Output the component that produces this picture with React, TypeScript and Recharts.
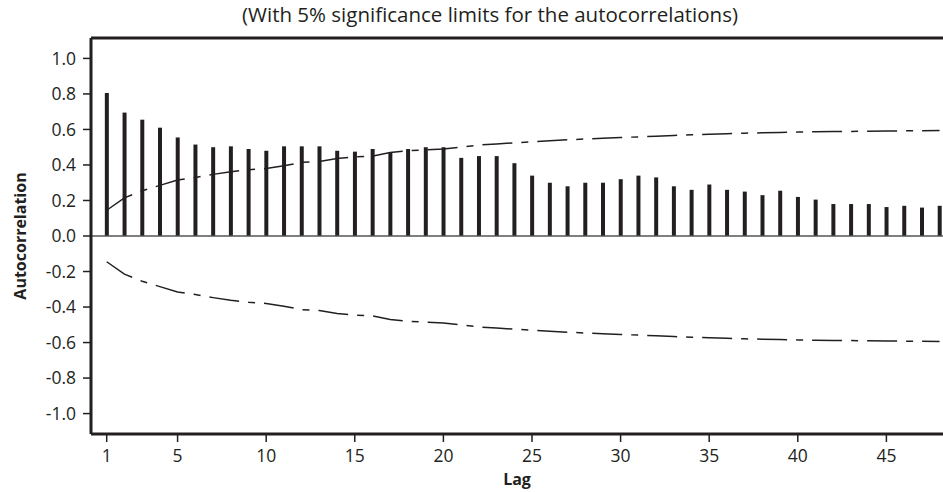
import { ComposedChart, Bar, Line, XAxis, YAxis, ReferenceLine } from 'recharts';

// lag numbers (categories)
const lags = [
  1, 2, 3, 4, 5, 6, 7, 8, 9, 10, 11, 12, 13, 14, 15, 16,
  17, 18, 19, 20, 21, 22, 23, 24, 25, 26, 27, 28, 29, 30, 31, 32,
  33, 34, 35, 36, 37, 38, 39, 40, 41, 42, 43, 44, 45, 46, 47, 48,
];

// autocorrelation at each lag
const acf = [
  0.805, 0.695, 0.655, 0.61, 0.555, 0.515, 0.5, 0.505, 0.49, 0.48, 0.505, 0.505, 0.505, 0.48, 0.475, 0.49,
  0.47, 0.49, 0.5, 0.5, 0.44, 0.45, 0.45, 0.41, 0.34, 0.3, 0.28, 0.3, 0.3, 0.32, 0.34, 0.33,
  0.28, 0.26, 0.29, 0.26, 0.25, 0.23, 0.255, 0.22, 0.205, 0.18, 0.18, 0.18, 0.163, 0.17, 0.16, 0.17,
];

// 5% significance limit (the lower limit is the negative of this)
const limits = [
  0.145, 0.215, 0.255, 0.285, 0.315, 0.33, 0.347, 0.362, 0.373, 0.38,
  0.395, 0.415, 0.42, 0.437, 0.445, 0.45, 0.47, 0.48, 0.485, 0.49,
  0.5, 0.512, 0.518, 0.525, 0.53, 0.537, 0.542, 0.546, 0.55, 0.555,
  0.558, 0.562, 0.566, 0.57, 0.573, 0.576, 0.579, 0.581, 0.583, 0.585,
  0.587, 0.588, 0.589, 0.59, 0.591, 0.592, 0.593, 0.594,
];

const xTicks = [1, 5, 10, 15, 20, 25, 30, 35, 40, 45];
const yTicks = [-1, -0.8, -0.6, -0.4, -0.2, 0, 0.2, 0.4, 0.6, 0.8, 1];

const data = lags.map((lag, i) => ({ lag, acf: acf[i], upper: limits[i], lower: -limits[i] }));

const INK = '#231f20';
const FONT = '"Open Sans", "Noto Sans", sans-serif';

export default function App() {
  return (
    <div style={{ position: 'absolute', left: 0, top: 0, width: 943, height: 492, overflow: 'hidden', background: '#fff', fontFamily: FONT }}>
      <div style={{ position: 'absolute', left: 0, top: 1, width: 980, textAlign: 'center', fontSize: 20.5, lineHeight: '26px', color: INK }}>
        (With 5% significance limits for the autocorrelations)
      </div>
      <ComposedChart width={1000} height={492} data={data} margin={{ top: 38, right: 25, bottom: 0, left: 0 }}>
        <XAxis
          dataKey="lag"
          type="number"
          domain={[0.114, 50]}
          allowDataOverflow
          ticks={xTicks}
          interval={0}
          height={58}
          tickSize={8}
          tickMargin={8}
          axisLine={{ stroke: INK, strokeWidth: 3 }}
          tickLine={{ stroke: INK, strokeWidth: 1.5 }}
          tick={{ fill: INK, fontSize: 17.5, fontFamily: FONT }}
          label={{
            content: () => (
              <text x={517} y={485} textAnchor="middle" fill={INK} fontSize={16} fontWeight="bold" fontFamily={FONT}>
                Lag
              </text>
            ),
          }}
        />
        <YAxis
          type="number"
          domain={[-1.115, 1.115]}
          allowDataOverflow
          ticks={yTicks}
          interval={0}
          width={91}
          tickSize={8}
          tickMargin={7}
          tickFormatter={(v: number) => v.toFixed(1)}
          axisLine={{ stroke: INK, strokeWidth: 3 }}
          tickLine={{ stroke: INK, strokeWidth: 1.5 }}
          tick={{ fill: INK, fontSize: 17.5, fontFamily: FONT }}
          label={{
            content: () => (
              <text x={20} y={236} transform="rotate(-90 20 236)" textAnchor="middle" dominantBaseline="central" fill={INK} fontSize={16} fontWeight="bold" fontFamily={FONT}>
                Autocorrelation
              </text>
            ),
          }}
        />
        <ReferenceLine y={1.115} stroke={INK} strokeWidth={3} />
        <ReferenceLine y={0} stroke="#555" strokeWidth={1.5} />
        <Bar dataKey="acf" fill={INK} barSize={4} isAnimationActive={false} />
        <Line dataKey="upper" type="linear" stroke={INK} strokeWidth={1.5} strokeDasharray="30 9 7 9" dot={false} activeDot={false} isAnimationActive={false} />
        <Line dataKey="lower" type="linear" stroke={INK} strokeWidth={1.5} strokeDasharray="30 9 7 9" dot={false} activeDot={false} isAnimationActive={false} />
      </ComposedChart>
    </div>
  );
}
